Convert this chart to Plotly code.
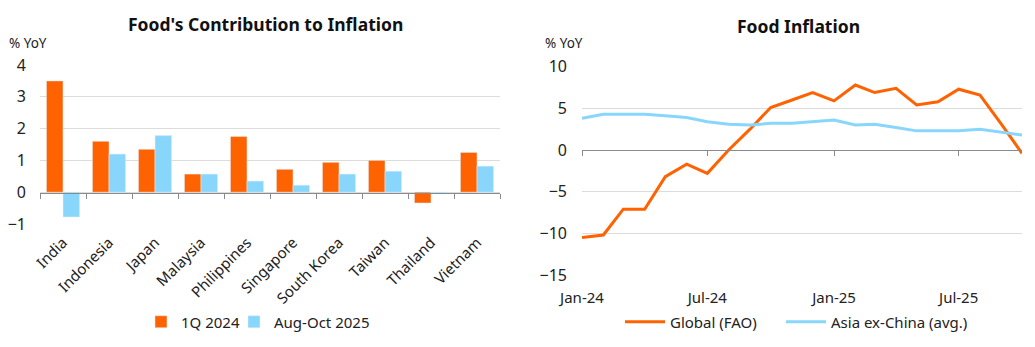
import plotly.graph_objects as go

countries = ["India", "Indonesia", "Japan", "Malaysia", "Philippines", "Singapore",
             "South Korea", "Taiwan", "Thailand", "Vietnam"]
q1_2024 = [3.5, 1.6, 1.35, 0.57, 1.75, 0.72, 0.94, 1.0, -0.34, 1.25]
aug_oct_2025 = [-0.78, 1.2, 1.78, 0.57, 0.35, 0.22, 0.57, 0.66, -0.03, 0.82]

months = ["2024-01-01", "2024-02-01", "2024-03-01", "2024-04-01", "2024-05-01", "2024-06-01",
          "2024-07-01", "2024-08-01", "2024-09-01", "2024-10-01", "2024-11-01", "2024-12-01",
          "2025-01-01", "2025-02-01", "2025-03-01", "2025-04-01", "2025-05-01", "2025-06-01",
          "2025-07-01", "2025-08-01", "2025-09-01", "2025-10-01"]
global_fao = [-10.5, -10.2, -7.1, -7.1, -3.2, -1.7, -2.8, 0.0, 2.5, 5.1, 6.0, 6.9,
              5.9, 7.8, 6.9, 7.4, 5.4, 5.8, 7.3, 6.6, 3.1, -0.4]
asia_ex_china = [3.8, 4.3, 4.3, 4.3, 4.1, 3.9, 3.4, 3.1, 3.0, 3.2, 3.2, 3.4,
                 3.6, 3.0, 3.1, 2.7, 2.3, 2.3, 2.3, 2.5, 2.1, 1.8]

ORANGE = "#FF6200"
BLUE = "#89D6FD"
GRID = "#dcdcdc"
AXIS = "#8a8a8a"
TXT = "#222222"
FONT = "Noto Sans"

W, H = 1035, 347
def px(y):
    return 1 - y / H

fig = go.Figure()

fig.add_trace(go.Bar(x=countries, y=q1_2024, name="1Q 2024", marker_color=ORANGE,
                     xaxis="x", yaxis="y", legend="legend"))
fig.add_trace(go.Bar(x=countries, y=aug_oct_2025, name="Aug-Oct 2025", marker_color=BLUE,
                     xaxis="x", yaxis="y", legend="legend2"))

fig.add_trace(go.Scatter(x=months, y=global_fao, name="Global (FAO)", mode="lines",
                         line=dict(color=ORANGE, width=3), xaxis="x2", yaxis="y2",
                         legend="legend3"))
fig.add_trace(go.Scatter(x=months, y=asia_ex_china, name="Asia ex-China (avg.)", mode="lines",
                         line=dict(color=BLUE, width=3), xaxis="x2", yaxis="y2",
                         legend="legend4"))

# invisible helpers so the zero-line axes render
fig.add_trace(go.Scatter(x=[0], y=[0], mode="markers", marker=dict(opacity=0),
                         xaxis="x3", yaxis="y", showlegend=False, hoverinfo="skip"))
fig.add_trace(go.Scatter(x=[months[0]], y=[0], mode="markers", marker=dict(opacity=0),
                         xaxis="x4", yaxis="y2", showlegend=False, hoverinfo="skip"))

left_dom = [40 / W, 500 / W]
right_dom = [582 / W, 1022 / W]

def leg(x, iw):
    return dict(orientation="h", x=x / W, y=px(322), xanchor="left", yanchor="middle",
                font=dict(size=15, color=TXT), bgcolor="rgba(0,0,0,0)", itemwidth=iw)

fig.update_layout(
    width=W, height=H,
    margin=dict(l=0, r=0, t=0, b=0),
    paper_bgcolor="white", plot_bgcolor="white",
    font=dict(family=FONT, color=TXT, size=14),
    barmode="group", bargap=0.28, bargroupgap=0.0,
    xaxis=dict(domain=left_dom, anchor="y", tickangle=-45, showgrid=False,
               showline=False, ticks="", automargin=False, ticklabelstandoff=6,
               tickfont=dict(size=15, color=TXT)),
    yaxis=dict(domain=[px(224), px(65)], anchor="x", range=[-1, 4], dtick=1,
               showgrid=True, gridcolor=GRID, zeroline=False, showline=False,
               automargin=False, tickfont=dict(size=16, color=TXT), ticklabelstandoff=13),
    xaxis3=dict(overlaying="x", anchor="free", position=px(192.7), domain=left_dom,
                range=[-0.5, 9.5], tickvals=[i - 0.5 for i in range(11)],
                showticklabels=False, ticks="outside", ticklen=5, tickcolor=AXIS,
                showline=True, linecolor=AXIS, linewidth=1, showgrid=False,
                zeroline=False, automargin=False),
    xaxis2=dict(domain=right_dom, anchor="y2", type="date",
                range=["2024-01-01", "2025-10-01"], dtick="M6", tick0="2024-01-01",
                tickformat="%b-%y", showgrid=False, showline=False, ticks="",
                automargin=False, ticklabelstandoff=12, tickfont=dict(size=15, color=TXT)),
    yaxis2=dict(domain=[px(275), px(66.7)], anchor="x2", range=[-15, 10], dtick=5,
                showgrid=True, gridcolor=GRID, zeroline=False, showline=False,
                automargin=False, tickfont=dict(size=16, color=TXT), ticklabelstandoff=14),
    xaxis4=dict(overlaying="x2", anchor="free", position=px(150), domain=right_dom,
                type="date", range=["2024-01-01", "2025-10-01"], dtick="M6",
                tick0="2024-01-01", showticklabels=False, ticks="outside", ticklen=5,
                tickcolor=AXIS, showline=True, linecolor=AXIS, linewidth=1,
                showgrid=False, zeroline=False, automargin=False),
    legend=leg(141, 30),
    legend2=leg(234, 30),
    legend3=leg(620, 40),
    legend4=leg(781, 40),
    annotations=[
        dict(text="<b>Food's Contribution to Inflation</b>", x=265 / W, y=px(24),
             xref="paper", yref="paper", xanchor="center", yanchor="middle",
             showarrow=False, font=dict(size=17.5, color="#111")),
        dict(text="<b>Food Inflation</b>", x=798 / W, y=px(26),
             xref="paper", yref="paper", xanchor="center", yanchor="middle",
             showarrow=False, font=dict(size=17.5, color="#111")),
        dict(text="% YoY", x=7 / W, y=px(43), xref="paper", yref="paper",
             xanchor="left", yanchor="middle", showarrow=False,
             font=dict(size=13.5, color=TXT)),
        dict(text="% YoY", x=543 / W, y=px(43), xref="paper", yref="paper",
             xanchor="left", yanchor="middle", showarrow=False,
             font=dict(size=13.5, color=TXT)),
    ],
)

fig.write_html("out.html")
